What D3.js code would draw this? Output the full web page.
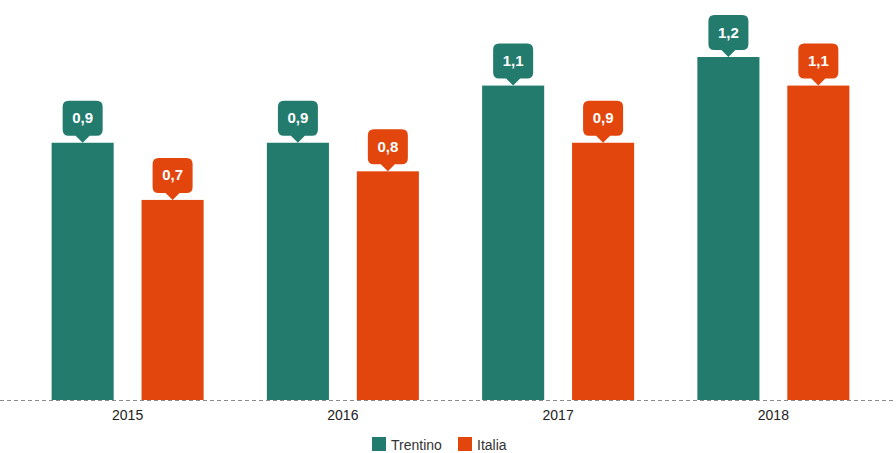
<!DOCTYPE html>
<html>
<head>
<meta charset="utf-8">
<script src="https://cdn.jsdelivr.net/npm/d3@7"></script>
<style>
  body { margin: 0; background: #fff; }
  text { font-family: Arial, "Liberation Sans", sans-serif; }
</style>
</head>
<body>
<script>
// dati
const anni = ["2015", "2016", "2017", "2018"]
const serie = ["Trentino", "Italia"]
const trentino = [0.9, 0.9, 1.1, 1.2]
const italia = [0.7, 0.8, 0.9, 1.1]
const colori = ["#237b6e", "#e2460c"]

const W = 896, H = 453
const baseY = 400

const svg = d3.select("body").append("svg")
    .attr("width", W)
    .attr("height", H)

// scale
const x0 = d3.scaleBand()
    .domain(anni)
    .range([20, 881])
    .paddingInner(0)
    .paddingOuter(0)

const x1 = d3.scaleBand()
    .domain(serie)
    .range([x0.bandwidth() / 2 - 76, x0.bandwidth() / 2 + 76])
    .paddingInner(0.31)
    .paddingOuter(0)

const y = d3.scaleLinear()
    .domain([0, 1.2])
    .range([baseY, 57])

const color = d3.scaleOrdinal().domain(serie).range(colori)

const righe = anni.map((a, i) => ({ anno: a, valori: [
    { serie: "Trentino", v: trentino[i] },
    { serie: "Italia", v: italia[i] }
] }))

// barre
const gruppi = svg.selectAll("g.anno")
    .data(righe)
    .join("g")
    .attr("class", "anno")
    .attr("transform", d => "translate(" + x0(d.anno) + ",0)")

gruppi.selectAll("rect")
    .data(d => d.valori)
    .join("rect")
    .attr("x", d => x1(d.serie))
    .attr("width", x1.bandwidth())
    .attr("y", d => y(d.v))
    .attr("height", d => y(0) - y(d.v))
    .attr("fill", d => color(d.serie))

// etichette a fumetto
const bw = 40, bh = 35, punta = 7, r = 6
const fumetti = gruppi.selectAll("g.fumetto")
    .data(d => d.valori)
    .join("g")
    .attr("class", "fumetto")
    .attr("transform", d => "translate(" + (x1(d.serie) + x1.bandwidth() / 2) + "," + y(d.v) + ")")

fumetti.append("path")
    .attr("d", () => {
        const l = -bw / 2, rt = bw / 2, b = -punta, t = -punta - bh
        return "M" + (l + r) + "," + t +
            " H" + (rt - r) + " Q" + rt + "," + t + " " + rt + "," + (t + r) +
            " V" + (b - r) + " Q" + rt + "," + b + " " + (rt - r) + "," + b +
            " H7 L0,0 L-7," + b +
            " H" + (l + r) + " Q" + l + "," + b + " " + l + "," + (b - r) +
            " V" + (t + r) + " Q" + l + "," + t + " " + (l + r) + "," + t + " Z"
    })
    .attr("fill", d => color(d.serie))

fumetti.append("text")
    .attr("text-anchor", "middle")
    .attr("y", -punta - bh / 2 + 5)
    .attr("fill", "#fff")
    .attr("font-size", 15)
    .attr("font-weight", "bold")
    .text(d => d3.format(".1f")(d.v).replace(".", ","))

// linea di base tratteggiata
svg.append("line")
    .attr("x1", 0).attr("x2", W)
    .attr("y1", baseY + 0.5).attr("y2", baseY + 0.5)
    .attr("stroke", "#8a8a8a")
    .attr("stroke-dasharray", "4,3")

// asse x
const asse = svg.append("g")
    .attr("transform", "translate(0," + baseY + ")")
    .call(d3.axisBottom(x0).tickSize(0).tickPadding(10))
asse.select(".domain").remove()
asse.selectAll("text")
    .attr("font-size", 14)
    .attr("fill", "#222")
    .style("font-family", "Arial, 'Liberation Sans', sans-serif")

// legenda
const legenda = svg.append("g").attr("transform", "translate(372,437)")
const voci = legenda.selectAll("g")
    .data(serie)
    .join("g")
    .attr("transform", (d, i) => "translate(" + (i === 0 ? 0 : 86) + ",0)")
voci.append("rect")
    .attr("width", 14).attr("height", 14)
    .attr("fill", d => color(d))
voci.append("text")
    .attr("x", 19).attr("y", 13)
    .attr("font-size", 14)
    .attr("fill", "#333")
    .text(d => d)
</script>
</body>
</html>
